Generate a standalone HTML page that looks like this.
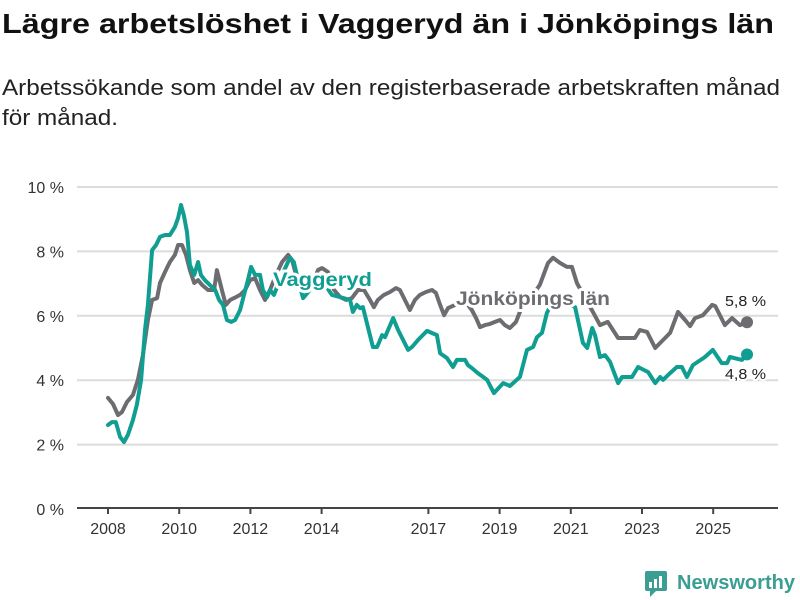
<!DOCTYPE html>
<html><head><meta charset="utf-8"><style>
body{margin:0;background:#fff;}
svg{display:block;font-family:"Liberation Sans","DejaVu Sans",sans-serif;}
</style></head><body>
<svg width="800" height="600" viewBox="0 0 800 600">
<text x="2" y="33" font-size="28" font-weight="bold" fill="#111" textLength="772" lengthAdjust="spacingAndGlyphs">Lägre arbetslöshet i Vaggeryd än i Jönköpings län</text>
<text x="2" y="95" font-size="22" fill="#222" textLength="778" lengthAdjust="spacingAndGlyphs">Arbetssökande som andel av den registerbaserade arbetskraften månad</text>
<text x="2" y="125" font-size="22" fill="#222" textLength="116" lengthAdjust="spacingAndGlyphs">för månad.</text>
<g id="grid"></g>
<g id="lines"></g>
<g id="labels"></g>
<g>
<rect x="645" y="571" width="22" height="20" rx="2" fill="#3a9e92"/>
<polygon points="650,591 656,591 650,597" fill="#3a9e92"/>
<rect x="649" y="582" width="3" height="6" fill="#fff"/><rect x="654" y="579" width="3" height="9" fill="#fff"/><rect x="659" y="576" width="3" height="12" fill="#fff"/>
<text x="677" y="589" font-size="20" fill="#3a9e92" font-weight="bold" textLength="118" lengthAdjust="spacingAndGlyphs">Newsworthy</text>
</g>
</svg>
<script>
const yTicks=[0,2,4,6,8,10];
const xTicks=[2008,2010,2012,2014,2017,2019,2021,2023,2025];
const jkpYears=[2008.00,2008.14,2008.28,2008.39,2008.53,2008.70,2008.84,2008.98,2009.12,2009.24,2009.38,2009.46,2009.60,2009.74,2009.88,2009.97,2010.08,2010.19,2010.30,2010.42,2010.53,2010.64,2010.81,2010.98,2011.06,2011.20,2011.31,2011.43,2011.54,2011.71,2011.85,2011.99,2012.13,2012.27,2012.41,2012.55,2012.72,2012.89,2013.06,2013.17,2013.28,2013.45,2013.67,2013.90,2014.01,2014.18,2014.35,2014.52,2014.69,2014.85,2015.02,2015.19,2015.36,2015.47,2015.58,2015.75,2015.92,2016.09,2016.20,2016.34,2016.48,2016.62,2016.76,2016.93,2017.10,2017.21,2017.33,2017.44,2017.55,2017.75,2017.94,2018.11,2018.22,2018.34,2018.45,2018.59,2018.73,2018.87,2019.01,2019.15,2019.29,2019.46,2019.57,2019.74,2019.94,2020.13,2020.36,2020.50,2020.70,2020.89,2021.03,2021.17,2021.40,2021.62,2021.82,2022.04,2022.33,2022.80,2022.94,2023.14,2023.37,2023.79,2024.01,2024.21,2024.35,2024.49,2024.71,2024.97,2025.06,2025.33,2025.53,2025.75,2025.95];
const jkpValues=[3.45,3.26,2.92,3.01,3.32,3.54,4.01,4.78,5.87,6.49,6.55,7.02,7.36,7.67,7.89,8.20,8.20,7.89,7.42,7.02,7.11,6.96,6.80,6.80,7.42,6.80,6.34,6.49,6.55,6.65,6.80,7.11,7.17,6.80,6.49,6.80,7.27,7.67,7.89,7.73,7.27,6.96,6.80,7.42,7.48,7.36,6.80,6.58,6.49,6.55,6.80,6.80,6.49,6.27,6.49,6.65,6.74,6.86,6.80,6.49,6.18,6.49,6.65,6.74,6.80,6.71,6.34,6.02,6.24,6.34,6.40,6.34,6.18,5.93,5.65,5.71,5.75,5.81,5.87,5.71,5.62,5.81,6.12,6.40,6.65,6.96,7.64,7.80,7.64,7.52,7.52,7.02,6.55,6.12,5.71,5.81,5.31,5.31,5.56,5.50,5.00,5.47,6.12,5.87,5.68,5.93,6.02,6.34,6.30,5.71,5.93,5.71,5.8];
const vagYears=[2008.00,2008.11,2008.22,2008.34,2008.45,2008.56,2008.70,2008.81,2008.93,2009.04,2009.12,2009.24,2009.35,2009.46,2009.60,2009.74,2009.88,2009.97,2010.05,2010.13,2010.22,2010.30,2010.42,2010.53,2010.61,2010.72,2010.86,2011.01,2011.12,2011.23,2011.34,2011.46,2011.57,2011.71,2011.82,2011.93,2012.02,2012.13,2012.27,2012.35,2012.47,2012.55,2012.66,2012.89,2013.11,2013.22,2013.34,2013.48,2013.67,2013.90,2014.10,2014.29,2014.52,2014.80,2014.88,2014.99,2015.08,2015.16,2015.44,2015.56,2015.70,2015.78,2016.01,2016.15,2016.43,2016.54,2016.71,2016.96,2017.24,2017.33,2017.52,2017.69,2017.80,2018.03,2018.11,2018.22,2018.39,2018.65,2018.84,2019.10,2019.29,2019.57,2019.77,2019.94,2020.05,2020.19,2020.33,2020.50,2020.70,2020.89,2021.12,2021.34,2021.46,2021.60,2021.68,2021.82,2021.96,2022.10,2022.33,2022.44,2022.72,2022.89,2023.17,2023.37,2023.51,2023.59,2023.79,2023.98,2024.12,2024.26,2024.43,2024.77,2024.99,2025.24,2025.39,2025.47,2025.81,2025.95];
const vagValues=[2.61,2.70,2.70,2.24,2.08,2.30,2.76,3.23,4.01,5.56,6.34,8.04,8.20,8.45,8.51,8.51,8.76,9.04,9.44,9.13,8.60,7.58,7.27,7.67,7.27,7.11,6.96,6.80,6.49,6.34,5.87,5.81,5.87,6.18,6.65,7.11,7.52,7.27,7.27,6.80,6.58,6.80,6.65,7.27,7.80,7.67,7.11,6.55,6.80,7.17,6.96,6.65,6.58,6.49,6.12,6.34,6.24,6.27,5.03,5.03,5.40,5.34,5.93,5.56,4.94,5.03,5.25,5.53,5.40,4.84,4.69,4.41,4.63,4.63,4.47,4.38,4.22,4.01,3.60,3.91,3.82,4.10,4.94,5.03,5.34,5.47,6.09,6.45,6.40,6.40,6.27,5.16,5.00,5.62,5.40,4.72,4.78,4.57,3.91,4.10,4.10,4.41,4.25,3.91,4.10,4.01,4.22,4.41,4.41,4.10,4.47,4.72,4.94,4.53,4.53,4.72,4.63,4.8];
const NS='http://www.w3.org/2000/svg';
const xS=y=>108+(y-2008)*35.6;
const yS=v=>509-v*32.2;
function mk(tag,attrs,parent){const e=document.createElementNS(NS,tag);for(const k in attrs)e.setAttribute(k,attrs[k]);parent.appendChild(e);return e;}
const grid=document.getElementById('grid'),lines=document.getElementById('lines'),labels=document.getElementById('labels');
yTicks.forEach(v=>{
  if(v>0){const l=mk('line',{x1:77,x2:778,y1:yS(v),y2:yS(v),stroke:'#dcdcdc','stroke-width':2},grid);
  
  }
  const t=mk('text',{x:64,y:yS(v)+6,'text-anchor':'end','font-size':16,fill:'#333'},grid);
  t.textContent=v+' %';
  
  
});
const ax=mk('line',{x1:77,x2:778,y1:508,y2:508,stroke:'#444','stroke-width':2},grid);


xTicks.forEach(y=>{
  const tk=mk('line',{x1:xS(y),x2:xS(y),y1:508,y2:514,stroke:'#444','stroke-width':2},grid);
  
  
  const t=mk('text',{x:xS(y),y:534,'text-anchor':'middle','font-size':16,fill:'#333'},grid);
  t.textContent=y;
  
  
});
function line(ys,vs,col,name){
  const d=ys.map((y,i)=>(i?'L':'M')+xS(y).toFixed(1)+','+yS(vs[i]).toFixed(1)).join('');
  const p=mk('path',{d:d,fill:'none',stroke:col,'stroke-width':4,'stroke-linejoin':'round','stroke-linecap':'round'},lines);
  
  
  const n=ys.length-1;
  const c=mk('circle',{cx:xS(ys[n]),cy:yS(vs[n]),r:6,fill:col},lines);
  
  
}
line(jkpYears,jkpValues,'#6d6c71','jonkoping-line');
line(vagYears,vagValues,'#0f9e91','vaggeryd-line');
function lab(x,y,txt,col,size,bold,name,len){
  const t=mk('text',{x:x,y:y,'font-size':size,'font-weight':bold?'bold':'normal',fill:col,stroke:'#fff','stroke-width':bold?6:4,'paint-order':'stroke','stroke-linejoin':'round'},labels);
  if(len){t.setAttribute('textLength',len);t.setAttribute('lengthAdjust','spacingAndGlyphs');}
  t.textContent=txt;
  
  
}
lab(273,286,'Vaggeryd','#0f9e91',19,true,'vaggeryd-label',99);
lab(456,305,'Jönköpings län','#6d6c71',19,true,'jonkoping-label',154);
lab(725,306,'5,8 %','#222',15,false,'jonkoping-end-value',41);
lab(725,379,'4,8 %','#222',15,false,'vaggeryd-end-value',41);
</script>
</body></html>
